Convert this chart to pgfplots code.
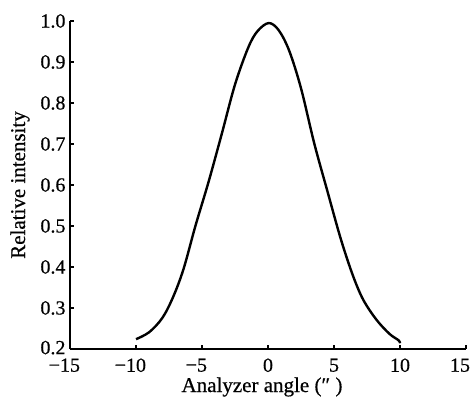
\documentclass[border=0pt]{standalone}
\usepackage{fontspec}
\setmainfont{Liberation Serif}[BoldFont={Liberation Serif},BoldFeatures={FakeBold=0.6}]
\usepackage{pgfplots}
\pgfplotsset{compat=1.18}
\begin{document}
\begin{tikzpicture}
\begin{axis}[
  scale only axis,
  width=396pt, height=328pt,
  xmin=-15, xmax=15, ymin=0.2, ymax=1.0,
  axis x line*=bottom, axis y line*=left,
  axis line style={line width=1.5pt},
  tick style={line width=1.4pt, black},
  major tick length=4pt,
  tick align=inside,
  xtick={-15,-10,-5,0,5,10,15},
  xticklabels={\llap{−}15,\llap{−}10,\llap{−}5,0,5,10,15\kern12pt\null},
  ytick={0.2,0.3,0.4,0.5,0.6,0.7,0.8,0.9,1.0},
  yticklabels={\raisebox{3pt}{0.2},0.3,0.4,0.5,0.6,0.7,0.8,0.9,1.0},
  ticklabel style={font=\fontsize{20}{22}\selectfont\bfseries},
  xticklabel style={yshift=-6pt},
  yticklabel style={xshift=-1pt},
  label style={font=\fontsize{21}{24}\selectfont\bfseries},
  xlabel={Analyzer angle (″ )},
  ylabel={Relative intensity},
  xlabel style={at={([xshift=-6pt,yshift=-38pt]rel axis cs:0.5,0)}, anchor=center},
  ylabel style={at={([xshift=-50pt]rel axis cs:0,0.5)}, anchor=center},
  clip=false,
]
\addplot[black, line width=2.4pt, smooth, tension=0.55] coordinates {
(-10.0,0.224) (-9.0,0.241) (-8.0,0.276) (-7.2,0.326) (-6.4,0.395)
(-5.5,0.500) (-4.5,0.608) (-3.5,0.725) (-2.5,0.845) (-1.5,0.935)
(-0.8,0.975) (0.05,0.995) (0.8,0.978) (1.6,0.928) (2.5,0.836)
(3.5,0.702) (4.5,0.585) (5.5,0.470) (6.4,0.382) (7.2,0.321)
(8.2,0.272) (9.2,0.237) (9.9,0.221) (10.0,0.214)
};
\coordinate (bl) at (rel axis cs:0,0);
\coordinate (tr) at (rel axis cs:1,1);
\end{axis}
\pgfresetboundingbox
\path ([shift={(-70pt,-51pt)}]bl) rectangle ([shift={(7pt,21pt)}]tr);
\end{tikzpicture}
\end{document}
